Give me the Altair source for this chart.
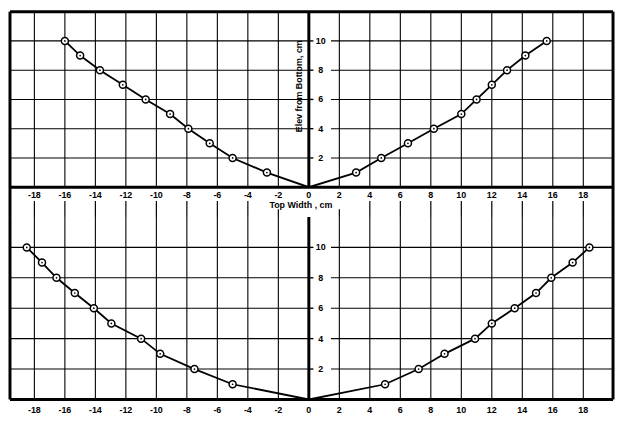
import altair as alt
import pandas as pd

# ---- data ----
X_TICKS = list(range(-18, 20, 2))
Y_TICKS = [2, 4, 6, 8, 10]

TOP_LEFT_X = [-16.0, -15.0, -13.7, -12.2, -10.7, -9.1, -7.9, -6.5, -5.0, -2.75]
TOP_LEFT_Y = [10, 9, 8, 7, 6, 5, 4, 3, 2, 1]
TOP_RIGHT_X = [3.1, 4.75, 6.5, 8.2, 10.0, 11.0, 12.0, 13.0, 14.2, 15.6]
TOP_RIGHT_Y = [1, 2, 3, 4, 5, 6, 7, 8, 9, 10]

BOT_LEFT_X = [-18.5, -17.5, -16.55, -15.35, -14.1, -12.95, -11.0, -9.75, -7.5, -5.0]
BOT_LEFT_Y = [10, 9, 8, 7, 6, 5, 4, 3, 2, 1]
BOT_RIGHT_X = [5.0, 7.2, 8.9, 10.9, 12.0, 13.5, 14.9, 15.9, 17.3, 18.4]
BOT_RIGHT_Y = [1, 2, 3, 4, 5, 6, 7, 8, 9, 10]

ORIGIN_X = [0.0]
ORIGIN_Y = [0]

X_TITLE = "Top Width , cm"
Y_TITLE = "Elev from Bottom, cm"

# ---- layout ----
XMIN, XMAX = -19.6, 19.95
YMAX = 12
W = 608
TOP_H, TOP_YMIN = 207, -2.034
BOT_H, BOT_YMIN = 184, 0.0
FONT = "Liberation Sans"
INK = "black"


def panel(lx, ly, rx, ry, height, ymin, top):
    xsc = alt.Scale(domain=[XMIN, XMAX], nice=False, zero=False)
    ysc = alt.Scale(domain=[ymin, YMAX], nice=False, zero=False)

    line_df = pd.DataFrame({"x": lx + ORIGIN_X + rx, "y": ly + ORIGIN_Y + ry})
    pts_df = pd.DataFrame({"x": lx + rx, "y": ly + ry})
    one = pd.DataFrame({"k": [0]})
    vt = pd.DataFrame({"t": X_TICKS})
    ht = pd.DataFrame({"t": Y_TICKS})
    xlab = pd.DataFrame({"t": X_TICKS, "lab": [str(t) for t in X_TICKS]})
    ylab = pd.DataFrame({"t": Y_TICKS, "lab": [str(t) for t in Y_TICKS]})

    X = lambda **k: alt.X(scale=xsc, axis=None, **k)
    Y = lambda **k: alt.Y(scale=ysc, axis=None, **k)
    q = "quantitative"

    layers = []
    # vertical grid
    layers.append(alt.Chart(vt).mark_rule(color=INK, strokeWidth=1.1).encode(
        x=X(field="t", type=q), y=Y(datum=0), y2=alt.datum(YMAX)))
    if top:
        gap = pd.DataFrame({"g": [t for t in X_TICKS if abs(t) > 2]})
        gap2 = pd.DataFrame({"g": [t for t in X_TICKS if abs(t) == 2]})
        layers.append(alt.Chart(gap).mark_rule(color=INK, strokeWidth=1.2).encode(
            x=X(field="g", type=q), y=Y(datum=-0.95), y2=alt.datum(ymin)))
        layers.append(alt.Chart(gap2).mark_rule(color=INK, strokeWidth=1.2).encode(
            x=X(field="g", type=q), y=Y(datum=-1.5), y2=alt.datum(ymin)))
    # horizontal grid (left of centre axis, tick, right of label)
    layers.append(alt.Chart(ht).mark_rule(color=INK, strokeWidth=1.1).encode(
        y=Y(field="t", type=q), x=X(datum=XMIN), x2=alt.datum(0)))
    layers.append(alt.Chart(ht).mark_rule(color=INK, strokeWidth=1.4).encode(
        y=Y(field="t", type=q), x=X(datum=0), x2=alt.datum(0.3)))
    layers.append(alt.Chart(ht).mark_rule(color=INK, strokeWidth=1.1).encode(
        y=Y(field="t", type=q), x=X(datum=1.45), x2=alt.datum(XMAX)))
    # frame
    layers.append(alt.Chart(one).mark_rule(color=INK, strokeWidth=3).encode(x=X(datum=XMIN)))
    layers.append(alt.Chart(one).mark_rule(color=INK, strokeWidth=3).encode(x=X(datum=XMAX)))
    if top:
        layers.append(alt.Chart(one).mark_rule(color=INK, strokeWidth=3).encode(y=Y(datum=YMAX)))
    # axis lines
    layers.append(alt.Chart(one).mark_rule(color=INK, strokeWidth=3).encode(y=Y(datum=0)))
    layers.append(alt.Chart(one).mark_rule(color=INK, strokeWidth=3).encode(
        x=X(datum=0), y=Y(datum=0), y2=alt.datum(YMAX)))
    # curve
    layers.append(alt.Chart(line_df).mark_line(color=INK, strokeWidth=1.8).encode(
        x=X(field="x", type=q), y=Y(field="y", type=q)))
    layers.append(alt.Chart(pts_df).mark_point(shape="circle", filled=True, fill="white",
                                                stroke=INK, strokeWidth=1.5, size=50,
                                                opacity=1).encode(
        x=X(field="x", type=q), y=Y(field="y", type=q)))
    layers.append(alt.Chart(pts_df).mark_point(shape="circle", filled=True, color=INK,
                                                size=3, opacity=1).encode(
        x=X(field="x", type=q), y=Y(field="y", type=q)))
    # tick labels
    layers.append(alt.Chart(xlab).mark_text(font=FONT, fontSize=9, fontWeight="bold",
                                            color=INK, align="center", baseline="middle",
                                            dy=7.5 if top else 10.5).encode(
        x=X(field="t", type=q), y=Y(datum=0), text="lab:N"))
    layers.append(alt.Chart(ylab).mark_text(font=FONT, fontSize=9, fontWeight="bold",
                                            color=INK, align="center", baseline="middle",
                                            dx=12).encode(
        x=X(datum=0), y=Y(field="t", type=q), text="lab:N"))
    if top:
        layers.append(alt.Chart(one).mark_text(text=X_TITLE, font=FONT, fontSize=9,
                                               fontWeight="bold", color=INK,
                                               align="center", baseline="middle",
                                               dy=18).encode(
            x=X(datum=-0.52), y=Y(datum=0)))
        layers.append(alt.Chart(one).mark_text(text=Y_TITLE, angle=270, font=FONT,
                                               fontSize=9, fontWeight="bold", color=INK,
                                               align="center", baseline="middle").encode(
            x=X(datum=-0.62), y=Y(datum=6.9)))
    return alt.layer(*layers).properties(width=W, height=height)


top = panel(TOP_LEFT_X, TOP_LEFT_Y, TOP_RIGHT_X, TOP_RIGHT_Y, TOP_H, TOP_YMIN, True)
bot = panel(BOT_LEFT_X, BOT_LEFT_Y, BOT_RIGHT_X, BOT_RIGHT_Y, BOT_H, BOT_YMIN, False)

chart = alt.vconcat(top, bot, spacing=0, bounds="flush").configure_view(
    strokeWidth=0).properties(padding={"left": 0, "top": 0, "right": 2, "bottom": 2},
                              background="white")

chart.save("out.html", embed_options={"renderer": "svg", "actions": False})
